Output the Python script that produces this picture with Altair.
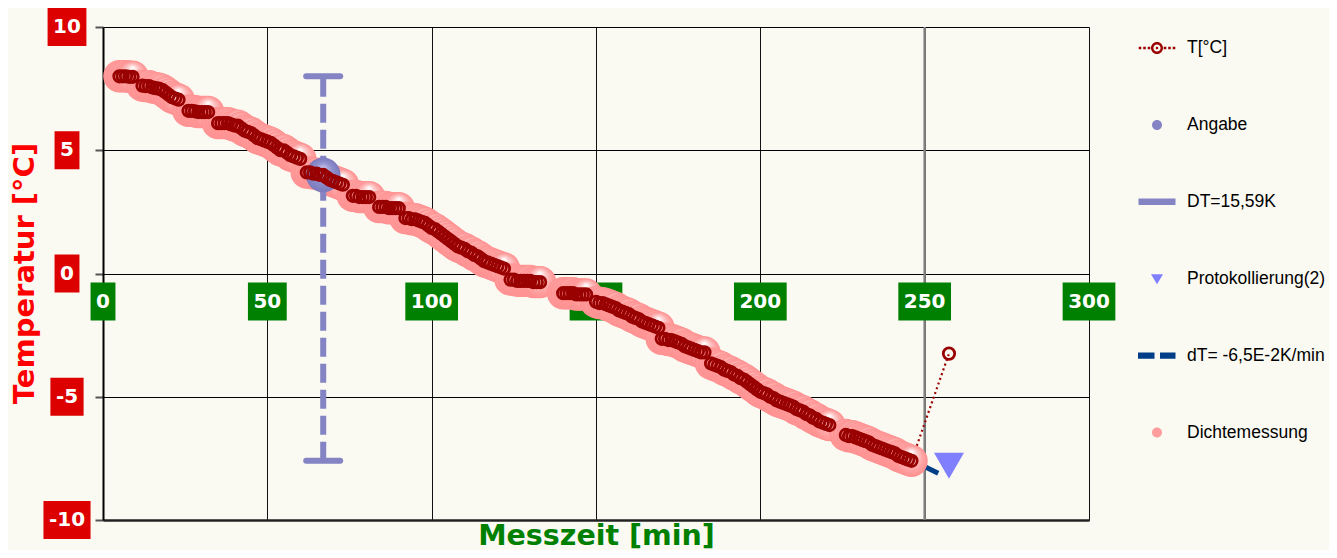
import altair as alt
import pandas as pd

# ---------------- data ----------------
t_min = [
    5, 6, 7, 8, 9,
    12, 13, 14, 15, 16, 17, 18, 19, 20, 21, 22, 23,
    26, 27, 28, 29, 30, 31, 32,
    35, 36, 37, 38, 39, 40, 41, 42, 43, 44, 45, 46, 47, 48, 49, 50, 51, 52, 53, 54, 55, 56, 57, 58, 59, 60,
    62, 63, 64, 65, 66, 67, 68, 69, 70, 71, 72, 73,
    76, 77, 78, 79, 80, 81,
    84, 85, 86, 87, 88, 89, 90,
    92, 93, 94, 95, 96, 97, 98, 99, 100, 101, 102, 103, 104, 105, 106, 107, 108, 109, 110, 111, 112, 113,
    114, 115, 116, 117, 118, 119, 120, 121, 122,
    124, 125, 126, 127, 128, 129, 130, 131, 132, 133,
    140, 141, 142, 143, 144, 145, 146, 147,
    150, 151, 152, 153, 154, 155, 156, 157, 158, 159, 160, 161, 162, 163, 164, 165, 166, 167, 168, 169,
    170, 171, 172, 173, 174, 175, 176, 177, 178, 179, 180, 181, 182, 183,
    185, 186, 187, 188, 189, 190, 191, 192, 193, 194, 195, 196, 197, 198, 199, 200, 201, 202, 203, 204,
    205, 206, 207, 208, 209, 210, 211, 212, 213, 214, 215, 216, 217, 218, 219, 220, 221,
    226, 227, 228, 229, 230, 231, 232, 233, 234, 235, 236, 237, 238, 239, 240, 241, 242, 243, 244, 245, 246,
    257.4,
]
temp_c = [
    8.0, 8.0, 8.0, 7.98, 7.98,
    7.62, 7.6, 7.6, 7.55, 7.52, 7.5, 7.45, 7.35, 7.25, 7.15, 7.1, 7.05,
    6.6, 6.6, 6.58, 6.55, 6.55, 6.55, 6.55,
    6.1, 6.1, 6.1, 6.1, 6.05, 6.0, 6.0, 5.9, 5.8, 5.75, 5.7, 5.6, 5.5, 5.45, 5.4, 5.35, 5.3, 5.2, 5.1, 5.0,
    5.0, 4.9, 4.8, 4.75, 4.7, 4.65,
    4.1, 4.1, 4.05, 4.05, 4.0, 4.0, 3.9, 3.8, 3.75, 3.7, 3.65, 3.6,
    3.15, 3.15, 3.1, 3.1, 3.1, 3.1,
    2.7, 2.7, 2.7, 2.65, 2.65, 2.65, 2.65,
    2.25, 2.25, 2.2, 2.2, 2.15, 2.1, 2.05, 1.95, 1.85, 1.8, 1.7, 1.6, 1.5, 1.4, 1.3, 1.2, 1.1, 1.05, 1.0,
    0.9, 0.85, 0.75, 0.7, 0.6, 0.5, 0.45, 0.4, 0.35, 0.3, 0.25, 0.2,
    -0.25, -0.25, -0.3, -0.3, -0.3, -0.3, -0.3, -0.35, -0.35, -0.35,
    -0.8, -0.8, -0.8, -0.8, -0.85, -0.85, -0.85, -0.85,
    -1.15, -1.2, -1.2, -1.25, -1.3, -1.35, -1.4, -1.5, -1.55, -1.6, -1.65, -1.75, -1.8, -1.85, -1.95, -2.0,
    -2.05, -2.1, -2.15, -2.2,
    -2.65, -2.65, -2.7, -2.7, -2.75, -2.8, -2.85, -2.95, -3.0, -3.05, -3.1, -3.15, -3.2, -3.2,
    -3.65, -3.7, -3.75, -3.8, -3.9, -3.95, -4.0, -4.1, -4.15, -4.25, -4.3, -4.4, -4.5, -4.6, -4.7, -4.8,
    -4.85, -4.9, -5.0, -5.05, -5.15, -5.2, -5.25, -5.3, -5.35, -5.4, -5.5, -5.55, -5.6, -5.7, -5.75, -5.85,
    -5.9, -6.0, -6.05, -6.1, -6.15,
    -6.55, -6.6, -6.6, -6.65, -6.7, -6.75, -6.8, -6.85, -6.95, -7.0, -7.05, -7.1, -7.15, -7.2, -7.25, -7.3,
    -7.4, -7.45, -7.5, -7.55, -7.6,
    -3.25,
]
# Dichtemessung: density measurements at every logged point except the last one
dichte_t = t_min[:-1]
dichte_T = temp_c[:-1]

angabe_t = [67.0]
angabe_T = [4.0]

dt_bar_t = [67.0]
dt_bar_low = [-7.6]
dt_bar_high = [8.0]

proto_t = [257.4]
proto_T = [-7.8]

trend_t = [3.0, 255.5]
trend_T = [8.2, -8.19]

marker_t = [250]

x_ticks = [0, 50, 100, 150, 200, 250, 300]
y_ticks = [-10, -5, 0, 5, 10]

legend_names = ["T[°C]", "Angabe", "DT=15,59K", "Protokollierung(2)", "dT= -6,5E-2K/min", "Dichtemessung"]
legend_colors = ["#990000", "#8484c4", "#8484c4", "#8080ff", "#003f87", "#ff9c9c"]

# ---------------- styling helpers ----------------
BG = "#faf9f2"
FONT_T = "DejaVu Sans"


def rect_path(x0, x1, y0, y1):
    return f"M{x0},{y0}L{x1},{y0}L{x1},{y1}L{x0},{y1}Z"


def circ_path(r, sweep=1):
    return f"M{r},0A{r},{r} 0 1,{sweep} {-r},0A{r},{r} 0 1,{sweep} {r},0Z"


dots = "".join(rect_path(c - 0.13, c + 0.13, -0.13, 0.13) for c in (-1.7, -1.25, -0.8, 0.8, 1.25, 1.7))
legend_paths = [
    dots + circ_path(0.6, 1) + circ_path(0.36, 0) + circ_path(0.13, 1),
    circ_path(0.5),
    rect_path(-1.85, 1.85, -0.32, 0.32),
    "M-0.6,-0.45L0.6,-0.45L0,0.55Z",
    rect_path(-1.9, -0.25, -0.32, 0.32) + rect_path(0.3, 1.85, -0.32, 0.32),
    circ_path(0.5),
]

xs = alt.Scale(domain=[0, 300], nice=False, zero=False)
ys = alt.Scale(domain=[-10, 10], nice=False, zero=False)

xaxis = alt.Axis(values=x_ticks, labels=False, ticks=False, domain=True, domainColor="#222",
                 domainWidth=2.5, grid=True, gridColor="#111", gridWidth=1,
                 title="Messzeit [min]", titleFont=FONT_T, titleFontSize=28.5, titleFontWeight="bold",
                 titleColor="#008000", titleX=493, titleY=24, titleAlign="center",
                 titleBaseline="alphabetic")
yaxis = alt.Axis(values=y_ticks, labels=False, ticks=True, tickSize=8, tickColor="#555", tickWidth=2,
                 domain=True, domainColor="#000", domainWidth=2, grid=True, gridColor="#000",
                 gridWidth=1, title="Temperatur [°C]", titleFont=FONT_T, titleFontSize=29,
                 titleFontWeight="bold", titleColor="#ff0000", titleAngle=-90, titleX=-70,
                 titleY=246, titleAlign="center", titleBaseline="alphabetic")

X = alt.X("t:Q", scale=xs, axis=xaxis)
Y = alt.Y("T:Q", scale=ys, axis=yaxis)


def box_w(s):
    return 11 + sum(8.3 if ch == "-" else 13.9 for ch in s)


ylab = pd.DataFrame({"t": [0] * len(y_ticks), "T": y_ticks, "label": [str(v) for v in y_ticks]})
ylab["w"] = ylab["label"].map(box_w)
xlab = pd.DataFrame({"t": x_ticks, "T": [0] * len(x_ticks), "label": [str(v) for v in x_ticks]})
xlab["w"] = xlab["label"].map(box_w)

layers = []

# marker line at 250 min
layers.append(alt.Chart(pd.DataFrame({"t": marker_t})).mark_rule(color="#808080", strokeWidth=2.5)
              .encode(x=X))

# label boxes (axis labels drawn as boxed text)
for w, sub in ylab.groupby("w"):
    layers.append(alt.Chart(sub).mark_rect(color="#dd0000", xOffset=-36 - w / 2, x2Offset=-36 + w / 2,
                                           yOffset=-19, y2Offset=19)
                  .encode(x=X, x2=alt.X2("t"), y=Y, y2=alt.Y2("T")))
layers.append(alt.Chart(ylab).mark_text(font=FONT_T, fontWeight="bold", fontSize=20, color="white",
                                        xOffset=-36, align="center", baseline="middle")
              .encode(x=X, y=Y, text="label:N"))
for w, sub in xlab.groupby("w"):
    layers.append(alt.Chart(sub).mark_rect(color="#008000", xOffset=-w / 2, x2Offset=w / 2,
                                           yOffset=9, y2Offset=47)
                  .encode(x=X, x2=alt.X2("t"), y=Y, y2=alt.Y2("T")))
layers.append(alt.Chart(xlab).mark_text(font=FONT_T, fontWeight="bold", fontSize=20, color="white",
                                        yOffset=28, align="center", baseline="middle")
              .encode(x=X, y=Y, text="label:N"))

# trend line dT
layers.append(alt.Chart(pd.DataFrame({"t": trend_t, "T": trend_T}))
              .mark_line(color="#003f87", strokeWidth=5, strokeDash=[16, 6])
              .encode(x=X, y=Y))

# dotted T line (under the density blobs)
tdf = pd.DataFrame({"t": t_min, "T": temp_c})
layers.append(alt.Chart(tdf).mark_line(color="#990000", strokeWidth=2.2, strokeDash=[2, 3])
              .encode(x=X, y=Y))

# Dichtemessung pink blobs
pink = {"gradient": "radial", "x1": 0.5, "y1": 0.2, "r1": 0, "x2": 0.5, "y2": 0.5, "r2": 0.5,
        "stops": [{"offset": 0, "color": "#ffffff"}, {"offset": 0.35, "color": "#ffcaca"},
                  {"offset": 0.7, "color": "#ffa6a6"}, {"offset": 1, "color": "#ff9090"}]}
layers.append(alt.Chart(pd.DataFrame({"t": dichte_t, "T": dichte_T}))
              .mark_circle(fill=pink, size=1050, opacity=1, strokeWidth=0)
              .encode(x=X, y=Y))

# DT error bar
bar = pd.DataFrame({"t": dt_bar_t, "T": dt_bar_low, "T2": dt_bar_high})
layers.append(alt.Chart(bar).mark_rule(color="#8484c4", strokeWidth=6, strokeDash=[19, 7])
              .encode(x=X, y=Y, y2=alt.Y2("T2")))
caps = pd.DataFrame({"t": dt_bar_t * 2, "T": dt_bar_low + dt_bar_high})
layers.append(alt.Chart(caps).mark_rule(color="#8484c4", strokeWidth=6, strokeCap="round",
                                        xOffset=-17, x2Offset=17)
              .encode(x=X, x2=alt.X2("t"), y=Y))

# Angabe ball
blue = {"gradient": "radial", "x1": 0.5, "y1": 0.3, "r1": 0, "x2": 0.5, "y2": 0.5, "r2": 0.5,
        "stops": [{"offset": 0, "color": "#c8c8ee"}, {"offset": 0.5, "color": "#9292d0"},
                  {"offset": 1, "color": "#7a7abc"}]}
layers.append(alt.Chart(pd.DataFrame({"t": angabe_t, "T": angabe_T}))
              .mark_circle(fill=blue, size=1200, opacity=1, strokeWidth=0)
              .encode(x=X, y=Y))

# T rings
layers.append(alt.Chart(tdf).mark_point(shape="circle", filled=False, color="#990000", strokeWidth=2.8,
                                        size=130, opacity=1)
              .encode(x=X, y=Y))

# Protokollierung triangle
layers.append(alt.Chart(pd.DataFrame({"t": proto_t, "T": proto_T}))
              .mark_point(shape="triangle-down", filled=True, color="#8080ff", size=900, opacity=1,
                          strokeWidth=0)
              .encode(x=X, y=Y))

# legend carrier (no visible marks)
leg = alt.Legend(orient="none", legendX=1044, legendY=11, title=None, symbolSize=400,
                 symbolStrokeWidth=0, labelFont="Liberation Sans", labelFontSize=17.5,
                 labelColor="#000", labelOffset=20, rowPadding=57.9, padding=0, symbolOpacity=1,
                 labelLimit=300)
legdf = pd.DataFrame({"name": legend_names, "t": [None] * 6, "T": [None] * 6})
layers.append(alt.Chart(legdf).mark_point(filled=True, opacity=1, strokeWidth=0)
              .encode(x=X, y=Y,
                      color=alt.Color("name:N", scale=alt.Scale(domain=legend_names, range=legend_colors),
                                      legend=leg),
                      shape=alt.Shape("name:N", scale=alt.Scale(domain=legend_names, range=legend_paths),
                                      legend=leg)))

chart = (alt.layer(*layers)
         .properties(width=986, height=493, autosize=alt.AutoSizeParams(type="none"),
                     padding={"left": 95, "top": 19, "right": 240, "bottom": 30})
         .configure(background=BG)
         .configure_view(stroke=None, fill=BG))

chart.save("out.html", embed_options={"renderer": "svg", "actions": False})
